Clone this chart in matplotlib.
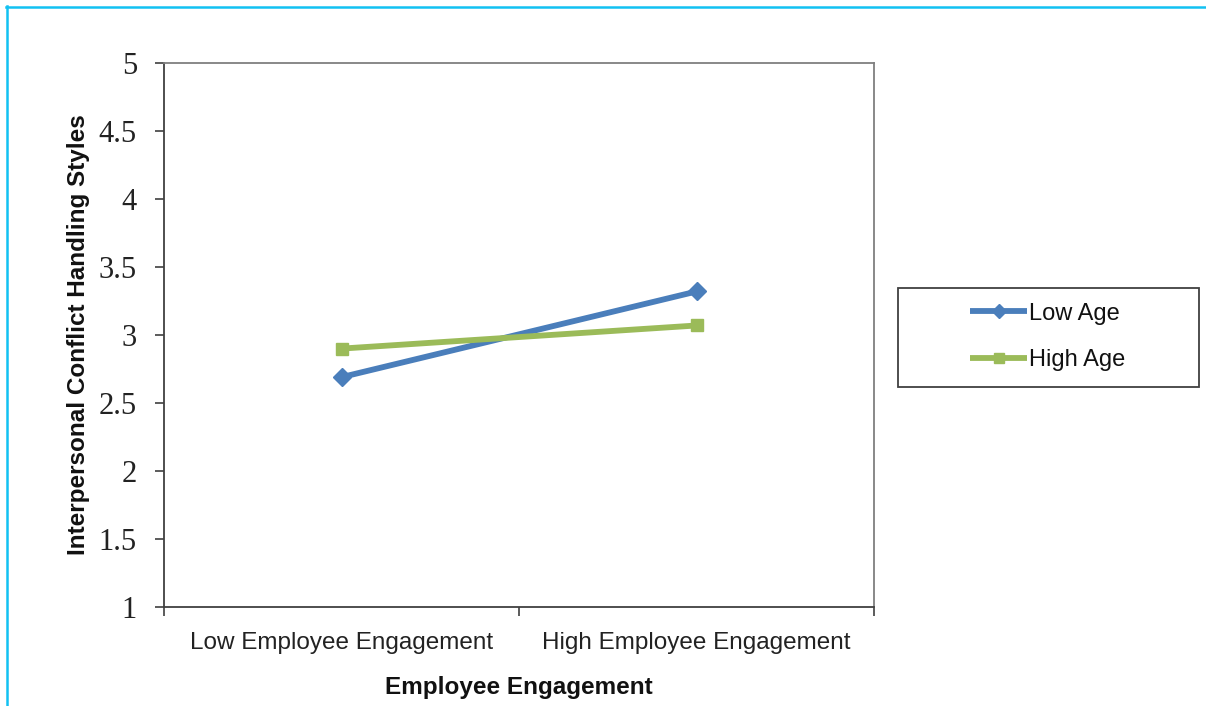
import matplotlib
matplotlib.use("Agg")
import matplotlib.pyplot as plt
from matplotlib import font_manager
from matplotlib.lines import Line2D
from matplotlib.patches import Rectangle

# Data
categories = ["Low Employee Engagement", "High Employee Engagement"]
low_age = [2.69, 3.32]
high_age = [2.90, 3.07]
series_names = ["Low Age", "High Age"]
y_ticks = [1, 1.5, 2, 2.5, 3, 3.5, 4, 4.5, 5]
y_tick_labels = ["1", "1.5", "2", "2.5", "3", "3.5", "4", "4.5", "5"]

installed = {f.name for f in font_manager.fontManager.ttflist}
narrow = "Liberation Sans Narrow" if "Liberation Sans Narrow" in installed else "Liberation Sans"
serif = "Liberation Serif"

W, H = 1206, 706
fig = plt.figure(figsize=(W / 100, H / 100), dpi=100)
fig.patch.set_facecolor("white")

def fx(px):
    return px / W

def fy(py):
    return 1 - py / H

# Page frame lines (top and left)
fig.add_artist(Line2D([fx(6), 1.0], [fy(6.5), fy(6.5)], color="#12c1f2", lw=1.8,
                      transform=fig.transFigure))
fig.add_artist(Line2D([fx(6.5), fx(6.5)], [fy(6), 0.0], color="#12c1f2", lw=1.8,
                      transform=fig.transFigure))

ax = fig.add_axes([fx(164), fy(607), fx(874) - fx(164), fy(63) - fy(607)])

x = list(range(len(categories)))
blue = "#4a7ebb"
green = "#9bbb59"
l1, = ax.plot(x, low_age, color=blue, lw=4.2, marker="D", markersize=9.5,
              label=series_names[0], solid_capstyle="butt")
l2, = ax.plot(x, high_age, color=green, lw=4.2, marker="s", markersize=9,
              label=series_names[1], solid_capstyle="butt")

ax.set_xlim(-0.5, len(categories) - 0.5)
ax.set_ylim(1, 5)
ax.set_yticks(y_ticks)
ax.set_yticklabels(y_tick_labels, fontfamily=serif, fontsize=22, color="#222222")
ax.set_xticks([-0.5, 0.5, 1.5], minor=False)
ax.set_xticklabels([])
ax.set_xticks(x, minor=True)
ax.set_xticklabels(categories, minor=True, fontfamily=narrow,
                   fontsize=17.5, color="#222222")
ax.tick_params(axis="x", which="minor", length=0, pad=18)
ax.tick_params(axis="x", which="major", direction="out", length=6.5, width=1.2,
               color="#404040")
ax.tick_params(axis="y", direction="out", length=6.5, width=1.2, color="#404040",
               pad=13)

for side in ["left", "bottom"]:
    ax.spines[side].set_color("#404040")
    ax.spines[side].set_linewidth(1.3)
for side in ["top", "right"]:
    ax.spines[side].set_color("#7f7f7f")
    ax.spines[side].set_linewidth(1.3)

ax.set_ylabel("Interpersonal Conflict Handling Styles", fontfamily=narrow,
              fontweight="bold", fontsize=17.5, color="#111111",
              labelpad=6)
ax.set_xlabel("Employee Engagement", fontfamily=narrow, fontweight="bold",
              fontsize=17.5, color="#111111", labelpad=16)

# Legend box and entries
fig.add_artist(Rectangle((fx(898), fy(387)), fx(1199) - fx(898), fy(288) - fy(387),
                         transform=fig.transFigure, fill=False,
                         edgecolor="#404040", lw=1.3))
leg = ax.legend(handles=[l1, l2], loc="center",
                bbox_to_anchor=(fx(1048), fy(337)), bbox_transform=fig.transFigure,
                frameon=False, prop={"family": narrow, "size": 17},
                handlelength=2.4, handletextpad=0.1, labelspacing=1.05,
                markerscale=0.8)
for t in leg.get_texts():
    t.set_color("#111111")

fig.savefig("out.png", dpi=100)
